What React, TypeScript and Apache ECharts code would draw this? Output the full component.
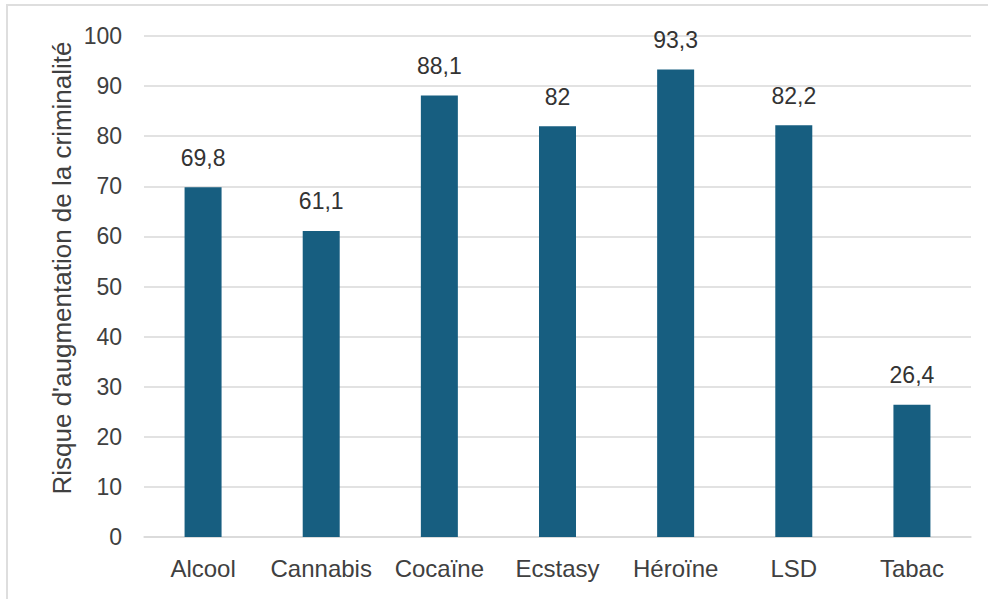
import React, { useEffect, useRef } from "react";
import * as echarts from "echarts";

const categories = ["Alcool", "Cannabis", "Cocaïne", "Ecstasy", "Héroïne", "LSD", "Tabac"];
const values = [69.8, 61.1, 88.1, 82, 93.3, 82.2, 26.4];
const yAxisTitle = "Risque d'augmentation de la criminalité";

const FONT = "'Liberation Sans', Arial, Helvetica, sans-serif";
const TEXT = "#404040";

export default function App() {
  const ref = useRef<HTMLDivElement>(null);

  useEffect(() => {
    if (!ref.current) return;
    const chart = echarts.init(ref.current, undefined, { renderer: "svg" });
    chart.setOption({
      animation: false,
      backgroundColor: "#ffffff",
      textStyle: { fontFamily: FONT },
      graphic: [
        {
          type: "rect",
          shape: { x: 7, y: 5, width: 1000, height: 620 },
          style: { fill: "none", stroke: "#dedede", lineWidth: 2 },
          silent: true,
        },
        {
          // vertical axis title
          type: "text",
          x: 62,
          y: 268,
          rotation: Math.PI / 2,
          style: {
            text: yAxisTitle,
            fill: TEXT,
            fontSize: 26,
            fontFamily: FONT,
            align: "center",
            verticalAlign: "middle",
          },
          silent: true,
        },
      ],
      grid: { left: 144, right: 17, top: 36, bottom: 62 },
      xAxis: {
        type: "category",
        data: categories,
        axisLine: { show: true, lineStyle: { color: "#d9d9d9", width: 1.5 } },
        axisTick: { show: false },
        axisLabel: {
          color: TEXT,
          fontSize: 24,
          margin: 19,
          interval: 0,
          hideOverlap: false,
          fontFamily: FONT,
        },
      },
      yAxis: {
        type: "value",
        min: 0,
        max: 100,
        interval: 10,
        axisLine: { show: false },
        axisTick: { show: false },
        axisLabel: { color: TEXT, fontSize: 23, margin: 22, fontFamily: FONT },
        splitLine: { lineStyle: { color: "#d9d9d9", width: 1.5 } },
      },
      series: [
        {
          type: "bar",
          data: values,
          barWidth: 37,
          itemStyle: { color: "#175e80" },
          label: {
            show: true,
            position: "top",
            distance: 18,
            color: "#333333",
            fontSize: 23,
            fontFamily: FONT,
            formatter: (p: any) => String(p.value).replace(".", ","),
          },
        },
      ],
    });
    return () => chart.dispose();
  }, []);

  return (
    <div
      ref={ref}
      style={{ position: "fixed", left: 0, top: 0, width: 988, height: 599 }}
    />
  );
}
